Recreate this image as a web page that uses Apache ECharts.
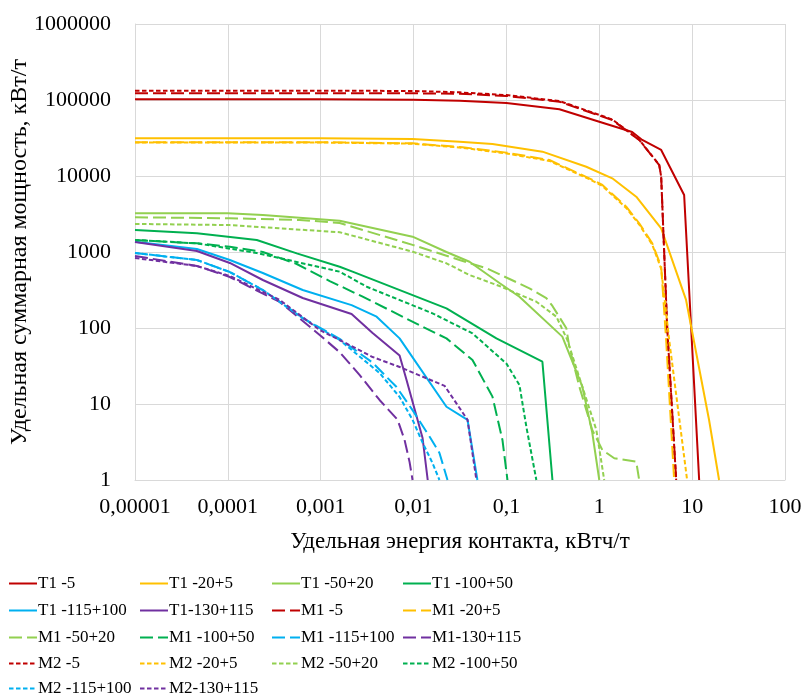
<!DOCTYPE html>
<html>
<head>
<meta charset="utf-8">
<script src="https://cdn.jsdelivr.net/npm/echarts@6/dist/echarts.min.js"></script>
<style>
html,body{margin:0;padding:0;background:#fff;}
#chart{width:810px;height:699px;}
</style>
</head>
<body>
<div id="chart"></div>
<script>
// ---- tick labels ----
const xTickLabels = ["0,00001", "0,0001", "0,001", "0,01", "0,1", "1", "10", "100"];
const yTickLabels = ["1", "10", "100", "1000", "10000", "100000", "1000000"];

// ---- series names ----
const seriesNames = [
  "T1 -5", "T1 -20+5", "T1 -50+20", "T1 -100+50", "T1 -115+100", "T1-130+115",
  "M1 -5", "M1 -20+5", "M1 -50+20", "M1 -100+50", "M1 -115+100", "M1-130+115",
  "M2 -5", "M2 -20+5", "M2 -50+20", "M2 -100+50", "M2 -115+100", "M2-130+115"
];

// ---- T1 ----
const t1_5_x = [1e-5, 1e-4, 1e-3, 0.01, 0.0313, 0.1, 0.372, 1.0, 2.26, 2.9, 4.64, 8.2, 11.9];
const t1_5_y = [102000, 102000, 102000, 101000, 98000, 91400, 75500, 51800, 37900, 29800, 22000, 5620, 1];
const t1_20_x = [1e-5, 1e-4, 9.75e-4, 9.75e-3, 0.0313, 0.0707, 0.244, 0.724, 1.38, 2.5, 4.64, 8.6, 15.2, 19.5];
const t1_20_y = [31300, 31300, 31300, 30700, 28300, 26400, 20900, 13250, 9330, 5340, 2050, 234, 6.2, 1];
const t1_50_x = [1e-5, 1e-4, 2.38e-4, 1.6e-3, 9.75e-3, 0.0226, 0.04, 0.0841, 0.138, 0.40, 0.656, 0.84, 1.0];
const t1_50_y = [3230, 3230, 3070, 2570, 1590, 1000, 745, 391, 258, 77, 17, 4.2, 1];
const t1_100_x = [1e-5, 4.64e-5, 2.05e-4, 5.52e-4, 1.6e-3, 2.2e-3, 0.0226, 0.078, 0.244, 0.313];
const t1_100_y = [1950, 1760, 1440, 960, 640, 551, 181, 73, 36, 1];
const t1_115_x = [1e-5, 4.64e-5, 1.05e-4, 2.38e-4, 6.4e-4, 2.15e-3, 4.0e-3, 7.07e-3, 0.0226, 0.0381, 0.0487];
const t1_115_y = [1367, 1095, 785, 529, 316, 200, 141, 73, 9.2, 6.2, 1];
const t1_130_x = [1e-5, 4.64e-5, 1.05e-4, 2.38e-4, 6.4e-4, 2.15e-3, 3.62e-3, 7.07e-3, 8.4e-3, 0.0125, 0.0142];
const t1_130_y = [1350, 1030, 717, 428, 248, 153, 86, 43.5, 20.7, 3.57, 1];

// ---- M1 ----
const m1_5_x = [1e-5, 1e-3, 0.01, 0.0313, 0.1, 0.372, 1.38, 2.69, 4.42, 4.64, 5.38, 6.73];
const m1_5_y = [122500, 122500, 122500, 121000, 113000, 95000, 54500, 29800, 13950, 9800, 104, 1];
const m1_20_x = [1e-5, 1.25e-3, 9.75e-3, 0.0337, 0.1, 0.29, 0.78, 1.08, 1.95, 2.69, 3.72, 4.64, 5.25, 6.4];
const m1_20_y = [27750, 27750, 26900, 23900, 20300, 16240, 9330, 7620, 3950, 2390, 1300, 640, 69.5, 1];
const m1_50_x = [1e-5, 1.05e-4, 5.94e-4, 1.6e-3, 9.75e-3, 0.0313, 0.061, 0.177, 0.269, 0.313, 0.442, 0.475, 0.61, 0.84, 1.08, 1.45, 2.5, 2.69];
const m1_50_y = [2860, 2780, 2640, 2410, 1240, 785, 611, 333, 248, 195, 99, 57, 16.9, 4.55, 2.48, 1.93, 1.74, 1];
const m1_100_x = [1e-5, 4.64e-5, 1.05e-4, 2.38e-4, 5.52e-4, 1.25e-3, 2.83e-3, 5.95e-3, 0.0125, 0.0226, 0.0431, 0.0707, 0.0906, 0.1026];
const m1_100_y = [1440, 1300, 1175, 1000, 695, 415, 258, 164, 104, 73, 38, 12.5, 3.36, 1];
const m1_115_x = [1e-5, 4.64e-5, 1.05e-4, 2.38e-4, 6.4e-4, 1.6e-3, 3.62e-3, 6.56e-3, 9.75e-3, 0.0149, 0.019, 0.0232];
const m1_115_y = [970, 785, 545, 316, 135, 72, 35, 16.7, 8.3, 3.7, 2.27, 1];
const m1_130_x = [1e-5, 4.64e-5, 1.05e-4, 3.62e-4, 9.75e-4, 1.6e-3, 2.63e-3, 4.3e-3, 6.73e-3, 8.0e-3, 9.06e-3, 9.75e-3];
const m1_130_y = [885, 655, 469, 220, 81, 48, 24, 11.3, 6.2, 3.36, 1.72, 1];

// ---- M2 ----
const m2_5_x = [1e-5, 1e-3, 0.01, 0.0313, 0.1, 0.372, 1.38, 2.69, 4.42, 4.64, 5.38, 6.73];
const m2_5_y = [132500, 132500, 131500, 126000, 116000, 97000, 55500, 30000, 14000, 9800, 104, 1];
const m2_20_x = [1e-5, 1.25e-3, 9.75e-3, 0.0337, 0.1, 0.29, 0.78, 1.08, 1.95, 2.69, 3.72, 4.64, 5.66, 8.83];
const m2_20_y = [27500, 27500, 26600, 23500, 19800, 15800, 9100, 7400, 3800, 2300, 1250, 600, 69.5, 1];
const m2_50_x = [1e-5, 1.05e-4, 1.6e-3, 9.75e-3, 0.0226, 0.04, 0.0841, 0.21, 0.345, 0.453, 0.656, 0.93, 1.13];
const m2_50_y = [2340, 2260, 1820, 1010, 710, 498, 357, 222, 141, 69.5, 16.9, 4.55, 1];
const m2_100_x = [1e-5, 4.64e-5, 2.05e-4, 5.52e-4, 1.6e-3, 3.13e-3, 0.016, 0.0431, 0.1, 0.138, 0.164, 0.21];
const m2_100_y = [1440, 1300, 970, 740, 551, 349, 156, 85, 34, 17.8, 5, 1];
const m2_115_x = [1e-5, 4.64e-5, 1.05e-4, 2.38e-4, 6.4e-4, 1.6e-3, 4.3e-3, 7.07e-3, 9.75e-3, 0.0125, 0.016, 0.019];
const m2_115_y = [970, 785, 545, 316, 135, 69.5, 25.6, 12.4, 6.2, 3.1, 1.67, 1];
const m2_130_x = [1e-5, 4.64e-5, 1.05e-4, 3.62e-4, 9.75e-4, 1.6e-3, 3.62e-3, 7.07e-3, 0.0216, 0.0381, 0.0475];
const m2_130_y = [834, 655, 483, 234, 94, 69.5, 41.5, 30.7, 17.3, 6.2, 1];

const xs = [t1_5_x, t1_20_x, t1_50_x, t1_100_x, t1_115_x, t1_130_x,
            m1_5_x, m1_20_x, m1_50_x, m1_100_x, m1_115_x, m1_130_x,
            m2_5_x, m2_20_x, m2_50_x, m2_100_x, m2_115_x, m2_130_x];
const ys = [t1_5_y, t1_20_y, t1_50_y, t1_100_y, t1_115_y, t1_130_y,
            m1_5_y, m1_20_y, m1_50_y, m1_100_y, m1_115_y, m1_130_y,
            m2_5_y, m2_20_y, m2_50_y, m2_100_y, m2_115_y, m2_130_y];

const palette = ["#C00000", "#FFC000", "#92D050", "#00B050", "#00B0F0", "#7030A0"];
const dashes = ["solid", [13, 5], [4.5, 2.5]];
const FONT = "Liberation Serif";

const series = seriesNames.map((name, i) => ({
  name: name,
  type: "line",
  symbol: "none",
  showSymbol: false,
  clip: true,
  data: xs[i].map((x, j) => [x, ys[i][j]]),
  lineStyle: { color: palette[i % 6], width: 2, type: dashes[Math.floor(i / 6)] },
  itemStyle: { color: palette[i % 6] },
  z: 2 + i
}));

// legend: 4 columns x 5 rows, each item its own legend so columns align
const colLeft = [8, 139, 271, 402];
const rowTop = [575, 602, 629, 655, 680];
const legends = seriesNames.map((name, i) => ({
  data: [name],
  left: colLeft[i % 4],
  top: rowTop[Math.floor(i / 4)],
  itemWidth: 28,
  itemHeight: 14,
  padding: 0,
  itemStyle: { opacity: 0 },
  textStyle: { fontFamily: FONT, fontSize: 17, color: "#000", padding: [0, 0, 0, -4] }
}));

const chart = echarts.init(document.getElementById("chart"), null, { renderer: "canvas" });
chart.setOption({
  animation: false,
  backgroundColor: "#fff",
  grid: { left: 135, right: 25, top: 24, bottom: 219, containLabel: false, outerBoundsMode: "none" },
  legend: legends,
  xAxis: {
    type: "log",
    logBase: 10,
    min: 1e-5,
    max: 100,
    name: "Удельная энергия контакта, кВтч/т",
    nameLocation: "middle",
    nameGap: 50,
    nameMoveOverlap: false,
    nameTextStyle: { fontFamily: FONT, fontSize: 23, color: "#000" },
    axisLine: { show: true, lineStyle: { color: "#d9d9d9", width: 1 } },
    axisTick: { show: false },
    splitLine: { show: true, lineStyle: { color: "#d9d9d9", width: 1 } },
    axisLabel: {
      fontFamily: FONT, fontSize: 22, color: "#000", margin: 16,
      formatter: v => xTickLabels[Math.round(Math.log10(v)) + 5]
    }
  },
  yAxis: {
    type: "log",
    logBase: 10,
    min: 1,
    max: 1e6,
    name: "Удельная суммарная мощность, кВт/т",
    nameLocation: "middle",
    nameGap: 103,
    nameMoveOverlap: false,
    nameTextStyle: { fontFamily: FONT, fontSize: 24, color: "#000" },
    axisLine: { show: true, lineStyle: { color: "#d9d9d9", width: 1 } },
    axisTick: { show: false },
    splitLine: { show: true, lineStyle: { color: "#d9d9d9", width: 1 } },
    axisLabel: {
      fontFamily: FONT, fontSize: 22, color: "#000", margin: 24,
      formatter: v => yTickLabels[Math.round(Math.log10(v))]
    }
  },
  series: series
});
</script>
</body>
</html>
